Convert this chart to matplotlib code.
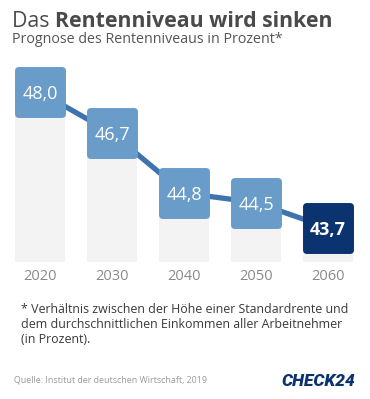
import numpy as np
import matplotlib.pyplot as plt
from matplotlib.markers import MarkerStyle

years = ['2020', '2030', '2040', '2050', '2060']
niveau = [48.0, 46.7, 44.8, 44.5, 43.7]
labels = ['48,0', '46,7', '44,8', '44,5', '43,7']

plt.rcParams['font.family'] = ['Open Sans', 'DejaVu Sans']

W, H = 370, 399
fig = plt.figure(figsize=(W / 100, H / 100), dpi=100)
fig.patch.set_facecolor('white')

def fy(p):
    return 1 - p / H

# chart area (pixels 4..364 x 62..262)
ax = fig.add_axes([4 / W, fy(262), 360 / W, 200 / H])
x = np.arange(len(years))
ymin, ymax = 42.615, 48.954
ax.set_xlim(-0.5, 4.5)
ax.set_ylim(ymin, ymax)

light = '#6a9cca'
navy = '#0b3370'

ax.bar(x, np.array(niveau) - ymin, bottom=ymin, width=0.69, color='#f3f3f3', zorder=1)
ax.plot(x, niveau, color='#3f73ad', lw=3.8, zorder=2, solid_capstyle='butt')

sq = MarkerStyle('s', joinstyle='round')
for i, v in enumerate(niveau):
    c = navy if i == len(niveau) - 1 else light
    ax.plot(x[i], v, marker=sq, ms=31, mew=5, mfc=c, mec=c, zorder=3)
    ax.text(x[i], v, labels[i], ha='center', va='center_baseline', color='white',
            fontsize=13, fontweight='bold' if i == len(niveau) - 1 else 'normal', zorder=4)

ax.set_xticks(x, years)
ax.tick_params(axis='x', length=0, pad=5, labelsize=10.5, labelcolor='#8a8a8a')
ax.set_yticks([])
for s in ax.spines.values():
    s.set_visible(False)
ax.patch.set_alpha(0)

# title: regular + bold part
r = fig.canvas.get_renderer()
t1 = fig.text(12 / W, fy(27), 'Das ', fontsize=15.3, color='#4a4a4a')
bb = t1.get_window_extent(renderer=r)
fig.text(bb.x1 / W, fy(27), 'Rentenniveau wird sinken', fontsize=15.3,
         fontweight='bold', color='#4a4a4a')
fig.text(12 / W, fy(43), 'Prognose des Rentenniveaus in Prozent*', fontsize=10.3,
         color='#555555')

foot = ['* Verhältnis zwischen der Höhe einer Standardrente und',
        'dem durchschnittlichen Einkommen aller Arbeitnehmer',
        '(in Prozent).']
for k, line in enumerate(foot):
    fig.text(21 / W, fy(313 + 15 * k), line, fontsize=8.9, color='#3a3a3a')

fig.text(14 / W, fy(382), 'Quelle: Institut der deutschen Wirtschaft, 2019',
         fontsize=6.4, color='#9a9a9a')
fig.text(355 / W, fy(386), 'CHECK24', fontsize=12.5, fontweight='heavy',
         fontstyle='italic', color=navy, ha='right', family=['Roboto', 'DejaVu Sans'])

fig.savefig('out.png', dpi=100)
